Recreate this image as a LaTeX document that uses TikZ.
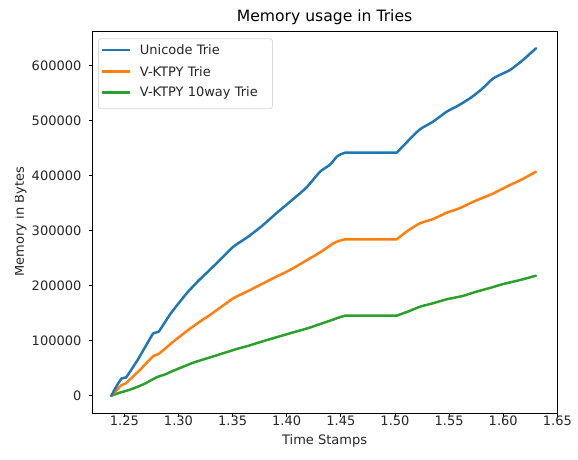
\documentclass[tikz,border=0pt]{standalone}
\usepackage{fontspec}
\setmainfont{DejaVu Sans}
\definecolor{tabblue}{HTML}{1F77B4}
\definecolor{taborange}{HTML}{FF7F0E}
\definecolor{tabgreen}{HTML}{2CA02C}
\definecolor{txt}{HTML}{262626}
\tikzset{
  series/.style={line width=2.5pt, line join=round, line cap=round},
  frameline/.style={line width=0.8pt, black},
  tickmark/.style={line width=0.8pt, black},
  ticklabel/.style={font=\fontsize{13}{15}\selectfont, text=txt, inner sep=0pt},
  axlabel/.style={font=\fontsize{13}{15}\selectfont, text=txt, inner sep=0pt},
  legendbox/.style={draw=black!15, line width=0.8pt, fill=white, rounded corners=2.5pt},
  legendtext/.style={font=\fontsize{13}{15}\selectfont, text=txt, inner sep=0pt, anchor=west},
  wig/.style={smooth, tension=0.35}
}
\begin{document}
\begin{tikzpicture}
\useasboundingbox (0,0) rectangle (578pt,459pt);
% data frame: x in seconds, y in thousands of bytes
\begin{scope}[shift={(-1228.8pt,63.3pt)}, x=1082.5pt, y=0.55pt]
  \coordinate (ll) at (1.2202,-32);
  \coordinate (ur) at (1.65,661.8);
  % curves: growth, plateau, growth again
  \draw[series, tabgreen] plot[wig] coordinates {(1.238,0) (1.245,5) (1.252,9) (1.258,13) (1.268,21) (1.2799,33.5) (1.288,39) (1.296,46) (1.3137,60) (1.333,72) (1.3538,84.9) (1.365,91) (1.378,99) (1.4031,113.5) (1.420,123) (1.4400,136.4) (1.4480,142) (1.4539,145.5)}
     -- plot[wig] coordinates {(1.5016,145.5) (1.512,153) (1.5231,161.8) (1.535,168) (1.5478,175.3) (1.562,181) (1.575,189) (1.5880,196) (1.6001,203.1) (1.615,210) (1.6303,218.2)};
  \draw[series, taborange] plot[wig] coordinates {(1.238,0) (1.2476,19.5) (1.2510,22) (1.256,31) (1.265,48) (1.2768,72.2) (1.2810,75) (1.288,86) (1.295,98) (1.3091,119.5) (1.320,135) (1.330,148) (1.3507,177.1) (1.362,188) (1.377,203) (1.390,216) (1.4031,228.5) (1.420,248) (1.432,262) (1.4431,277.1) (1.4485,281.5) (1.4539,284.4)}
     -- plot[wig] coordinates {(1.5016,284.4) (1.512,300) (1.5231,313.5) (1.535,321) (1.5478,332.7) (1.560,341) (1.5724,352.7) (1.590,367) (1.6063,383.1) (1.618,394) (1.6303,407.3)};
  \draw[series, tabblue] plot[wig] coordinates {(1.238,0) (1.2430,18) (1.2476,31.6) (1.2515,33) (1.256,46) (1.262,64) (1.270,91) (1.2768,113.5) (1.2815,116) (1.287,132) (1.293,150) (1.3076,186.2) (1.318,208) (1.328,227) (1.340,250) (1.3507,270.9) (1.365,290) (1.378,310) (1.390,331) (1.4031,352.7) (1.418,378) (1.4308,407.3) (1.4400,420) (1.4462,434.5) (1.4500,439) (1.4539,441.8)}
     -- plot[wig] coordinates {(1.5016,441.8) (1.512,463) (1.5231,484.4) (1.535,498) (1.5478,516.4) (1.5580,527) (1.5693,540.7) (1.580,557) (1.5909,577.1) (1.6063,592.2) (1.618,610) (1.6303,631.6)};
  % axes frame
  \draw[frameline] (ll) rectangle (ur);
  % x ticks
  \foreach \v/\n in {1.25/a,1.30/b,1.35/c,1.40/d,1.45/e,1.50/f,1.55/g,1.60/h,1.65/i}{
    \coordinate (xt\n) at (ll -| \v,0);
    \draw[tickmark] (xt\n) -- ++(0,-3.5pt);
    \node[ticklabel, anchor=north] (xl\n) at ([yshift=-2.8pt]xt\n) {\v};
  }
  % y ticks (value in thousands / printed label)
  \foreach \v/\t in {0/0,100/100000,200/200000,300/300000,400/400000,500/500000,600/600000}{
    \coordinate (yt\v) at (ll |- 0,\v);
    \draw[tickmark] (yt\v) -- ++(-3.5pt,0);
    \node[ticklabel, anchor=east] (yl\v) at ([xshift=-10.5pt]yt\v) {\t};
  }
\end{scope}
% legend
\node[legendbox, minimum width=174pt, minimum height=70pt, anchor=north west] (leg) at (98pt,420.7pt) {};
\coordinate (la1) at (102pt,409pt);
\coordinate (la2) at (102pt,387.3pt);
\coordinate (la3) at (102pt,366.3pt);
\coordinate (lb1) at (130.3pt,409pt);
\coordinate (lb2) at (130.3pt,387.3pt);
\coordinate (lb3) at (130.3pt,366.3pt);
\draw[series, tabblue, line cap=butt] (la1) -- (lb1);
\draw[series, taborange, line cap=butt] (la2) -- (lb2);
\draw[series, tabgreen, line cap=butt] (la3) -- (lb3);
\node[legendtext] (lt1) at (139.7pt,409pt) {Unicode Trie};
\node[legendtext] (lt2) at (139.7pt,387.3pt) {V-KTPY Trie};
\node[legendtext] (lt3) at (139.7pt,366.3pt) {V-KTPY 10way Trie};
% titles
\node[font=\fontsize{15.6}{18}\selectfont, text=black, inner sep=0pt] (title) at (324.6pt,442pt) {Memory usage in Tries};
\node[axlabel, anchor=base] (xlab) at (324.6pt,14.5pt) {Time Stamps};
\begin{scope}
  \clip (15.8pt,0pt) rectangle (578pt,459pt);
  \node[axlabel, rotate=90, anchor=base] (ylab) at (24pt,237.5pt) {Memory in Bytes};
\end{scope}
\end{tikzpicture}
\end{document}
